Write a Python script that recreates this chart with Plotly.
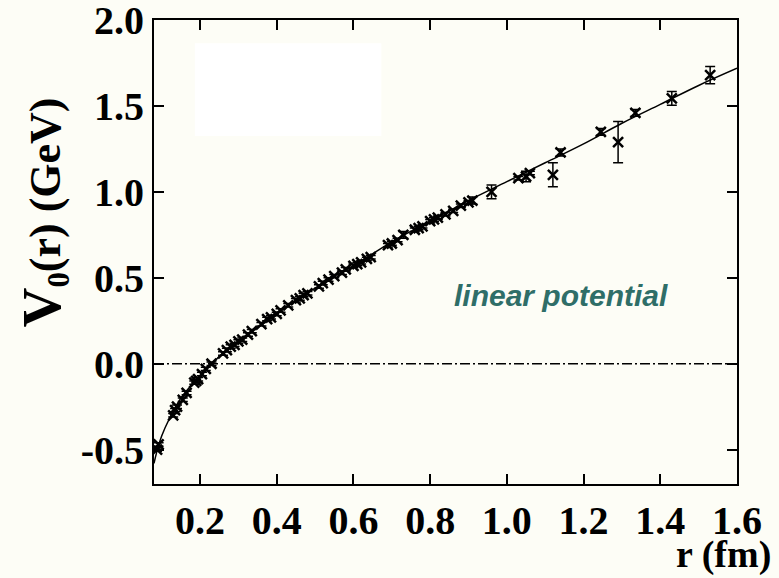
import plotly.graph_objects as go

# ---- data ----
x_range = [0.08, 1.6]
y_range = [-0.7, 2.001]
x_ticks = [0.2, 0.4, 0.6, 0.8, 1.0, 1.2, 1.4, 1.6]
y_ticks = [-0.5, 0.0, 0.5, 1.0, 1.5, 2.0]

# fitted potential curve
r_fit = [0.08, 0.09, 0.10, 0.12, 0.15, 0.20, 0.23, 0.27, 0.30, 0.35, 0.40, 0.45, 0.50,
         0.55, 0.60, 0.70, 0.80, 0.90, 1.00, 1.10, 1.20, 1.30, 1.40, 1.50, 1.60]
v_fit = [-0.58, -0.49, -0.42, -0.32, -0.20, -0.07, 0.00, 0.08, 0.13, 0.21, 0.29, 0.37, 0.44,
         0.51, 0.57, 0.71, 0.83, 0.95, 1.06, 1.17, 1.28, 1.40, 1.51, 1.62, 1.72]

# lattice data points
r_pts = [0.088, 0.092, 0.13, 0.135, 0.14, 0.155, 0.165, 0.185, 0.19, 0.195, 0.205,
         0.215, 0.23, 0.26, 0.27, 0.28, 0.29, 0.30, 0.31, 0.325, 0.335, 0.36, 0.375,
         0.385, 0.40, 0.41, 0.43, 0.45, 0.46, 0.47, 0.48, 0.51, 0.52, 0.535, 0.55,
         0.57, 0.58, 0.60, 0.61, 0.62, 0.635, 0.645, 0.69, 0.70, 0.715, 0.73, 0.76,
         0.77, 0.78, 0.80, 0.81, 0.82, 0.84, 0.86, 0.88, 0.90, 0.91, 0.96, 1.03,
         1.05, 1.06, 1.12, 1.14, 1.245, 1.29, 1.335, 1.43, 1.53]
v_pts = [-0.50, -0.47, -0.30, -0.27, -0.25, -0.21, -0.17, -0.11, -0.10, -0.09, -0.06,
         -0.03, 0.00, 0.06, 0.08, 0.10, 0.11, 0.13, 0.14, 0.17, 0.19, 0.23, 0.26,
         0.27, 0.29, 0.31, 0.34, 0.37, 0.38, 0.40, 0.41, 0.45, 0.47, 0.49, 0.51,
         0.53, 0.55, 0.57, 0.58, 0.59, 0.61, 0.62, 0.69, 0.70, 0.72, 0.75, 0.78,
         0.79, 0.80, 0.83, 0.84, 0.85, 0.87, 0.89, 0.92, 0.94, 0.95, 1.00, 1.08,
         1.09, 1.11, 1.10, 1.23, 1.35, 1.29, 1.46, 1.545, 1.68]
err_pts = [0.01, 0.01, 0.01, 0.01, 0.01, 0.01, 0.01, 0.01, 0.01, 0.01, 0.01,
           0.01, 0.01, 0.01, 0.01, 0.01, 0.01, 0.01, 0.01, 0.01, 0.01, 0.01, 0.01,
           0.01, 0.01, 0.01, 0.01, 0.01, 0.01, 0.01, 0.01, 0.01, 0.01, 0.01, 0.01,
           0.01, 0.01, 0.01, 0.01, 0.01, 0.01, 0.01, 0.01, 0.01, 0.01, 0.02, 0.01,
           0.01, 0.01, 0.01, 0.01, 0.01, 0.01, 0.01, 0.01, 0.01, 0.02, 0.04, 0.01,
           0.03, 0.01, 0.07, 0.02, 0.02, 0.12, 0.02, 0.04, 0.05]

serif = "Liberation Serif"

fig = go.Figure()
fig.add_trace(go.Scatter(x=x_range, y=[0, 0], mode="lines",
                         line=dict(color="black", width=1.5, dash="10px,3px,2px,3px"),
                         hoverinfo="skip"))
fig.add_trace(go.Scatter(x=r_fit, y=v_fit, mode="lines",
                         line=dict(color="black", width=1.5, shape="spline")))
fig.add_trace(go.Scatter(x=r_pts, y=v_pts, mode="markers",
                         marker=dict(symbol="x-thin", size=10, line=dict(width=2.5, color="black")),
                         error_y=dict(type="data", array=err_pts, color="black",
                                      thickness=1.5, width=5)))

axis_common = dict(ticks="inside", ticklen=10, tickwidth=2, tickcolor="black",
                   showline=True, linewidth=2, linecolor="black", mirror="ticks",
                   showgrid=False, zeroline=False, ticklabeloverflow="allow",
                   automargin=False,
                   tickfont=dict(family=serif, size=40, color="black", weight="bold"))

fig.update_layout(
    width=779, height=578,
    margin=dict(l=154, r=42, t=20, b=94),
    paper_bgcolor="#fdfdf6", plot_bgcolor="#fdfdf6",
    showlegend=False,
    xaxis=dict(range=x_range, tickvals=x_ticks,
               ticktext=[f"{v:.1f}" for v in x_ticks], **axis_common),
    yaxis=dict(range=y_range, tickvals=y_ticks,
               ticktext=[f"{v:.1f}" for v in y_ticks], **axis_common),
    shapes=[dict(type="rect", xref="paper", yref="paper", x0=0.07, x1=0.39, y0=0.75, y1=0.95,
                 fillcolor="white", line=dict(width=0), layer="below")],
    annotations=[
        dict(text="linear potential", x=1.141, y=0.40, xref="x", yref="y", showarrow=False,
             font=dict(family="Liberation Sans", size=30, color="#2f6e68",
                       style="italic", weight="bold")),
        dict(text="r (fm)", xref="paper", yref="paper", x=1.062, y=-0.151,
             xanchor="right", yanchor="middle", showarrow=False,
             font=dict(family=serif, size=38, color="black", weight="bold")),
        dict(text="<span style='font-size:55px'>V</span><sub>0</sub>(r) (GeV)",
             xref="paper", yref="paper", x=-0.19, y=0.586, textangle=-90,
             xanchor="center", yanchor="middle", showarrow=False,
             font=dict(family=serif, size=44, color="black", weight="bold")),
    ],
)

fig.write_html("out.html")
